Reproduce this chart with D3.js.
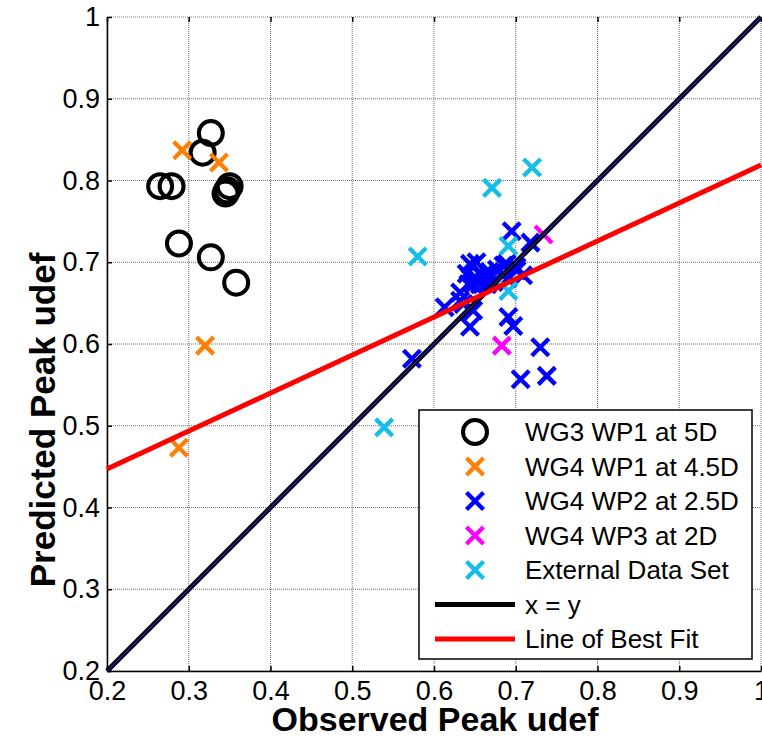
<!DOCTYPE html>
<html>
<head>
<meta charset="utf-8">
<script src="https://cdn.jsdelivr.net/npm/d3@7"></script>
<style>
  html, body { margin: 0; padding: 0; background: #fff; }
  svg { display: block; font-family: "Liberation Sans", Arial, Helvetica, sans-serif; }
</style>
</head>
<body>
<svg id="chart" width="762" height="744"></svg>
<script>
// Tick values for both axes
const xTicks = [0.2, 0.3, 0.4, 0.5, 0.6, 0.7, 0.8, 0.9, 1];
const yTicks = [0.2, 0.3, 0.4, 0.5, 0.6, 0.7, 0.8, 0.9, 1];
const tickLabels = ["0.2", "0.3", "0.4", "0.5", "0.6", "0.7", "0.8", "0.9", "1"];

// WG3 WP1 at 5D
const wg3wp1X = [0.327, 0.317, 0.265, 0.279, 0.350, 0.347, 0.345, 0.288, 0.327, 0.358];
const wg3wp1Y = [0.858, 0.834, 0.793, 0.793, 0.793, 0.788, 0.784, 0.723, 0.706, 0.675];

// WG4 WP1 at 4.5D
const wg4wp1X = [0.292, 0.337, 0.320, 0.288];
const wg4wp1Y = [0.837, 0.822, 0.598, 0.473];

// WG4 WP2 at 2.5D
const wg4wp2X = [0.573, 0.613, 0.632, 0.636, 0.648, 0.644, 0.644, 0.652, 0.640, 0.650, 0.660,
                 0.642, 0.648, 0.656, 0.665, 0.673, 0.677, 0.685, 0.689, 0.701, 0.709, 0.701,
                 0.695, 0.718, 0.691, 0.697, 0.730, 0.706, 0.738, 0.632, 0.690, 0.668];
const wg4wp2Y = [0.582, 0.645, 0.653, 0.649, 0.641, 0.621, 0.698, 0.700, 0.686, 0.682, 0.684,
                 0.673, 0.673, 0.673, 0.673, 0.676, 0.691, 0.696, 0.698, 0.694, 0.684, 0.690,
                 0.738, 0.724, 0.633, 0.622, 0.596, 0.557, 0.561, 0.663, 0.680, 0.688];

// WG4 WP3 at 2D
const wg4wp3X = [0.734, 0.683];
const wg4wp3Y = [0.734, 0.598];

// External data set
const externalX = [0.720, 0.671, 0.580, 0.539, 0.691, 0.691];
const externalY = [0.816, 0.791, 0.707, 0.498, 0.720, 0.665];

// Reference lines
const identityX = [0.2, 1];
const identityY = [0.2, 1];
const fitX = [0.2, 1];
const fitY = [0.447, 0.819];

const legendLabels = ["WG3 WP1 at 5D", "WG4 WP1 at 4.5D", "WG4 WP2 at 2.5D",
                      "WG4 WP3 at 2D", "External Data Set", "x = y", "Line of Best Fit"];

const zip = (xs, ys) => xs.map((v, i) => [v, ys[i]]);

const svg = d3.select("#chart");
const plot = { left: 107, right: 761, top: 17, bottom: 671 };

const x = d3.scaleLinear().domain([0.2, 1]).range([plot.left, plot.right]);
const y = d3.scaleLinear().domain([0.2, 1]).range([plot.bottom, plot.top]);
const fmt = d => tickLabels[xTicks.indexOf(d)];

// Dotted grid
const grid = svg.append("g").attr("class", "grid");
grid.selectAll("line.gx").data(xTicks).join("line")
  .attr("x1", d => x(d)).attr("x2", d => x(d))
  .attr("y1", plot.top).attr("y2", plot.bottom)
  .attr("stroke", "#6e6e6e").attr("stroke-width", 1).attr("stroke-dasharray", "1,1");
grid.selectAll("line.gy").data(yTicks).join("line")
  .attr("x1", plot.left).attr("x2", plot.right)
  .attr("y1", d => y(d)).attr("y2", d => y(d))
  .attr("stroke", "#6e6e6e").attr("stroke-width", 1).attr("stroke-dasharray", "1,1");

// Axes with inward ticks
const xAxis = svg.append("g")
  .attr("transform", `translate(0,${plot.bottom})`)
  .call(d3.axisBottom(x).tickValues(xTicks).tickFormat(fmt).tickSize(-5).tickPadding(10).tickSizeOuter(0));
const yAxis = svg.append("g")
  .attr("transform", `translate(${plot.left},0)`)
  .call(d3.axisLeft(y).tickValues(yTicks).tickFormat(fmt).tickSize(-5).tickPadding(7).tickSizeOuter(0));
const xTop = svg.append("g")
  .attr("transform", `translate(0,${plot.top})`)
  .call(d3.axisTop(x).tickValues(xTicks).tickFormat("").tickSize(-5).tickSizeOuter(0));
xTop.select(".domain").remove();

[xAxis, yAxis, xTop].forEach(g => {
  g.selectAll(".domain").attr("stroke", "#000").attr("stroke-width", 1.5);
  g.selectAll(".tick line").attr("stroke", "#000").attr("stroke-width", 1.5);
  g.selectAll(".tick text").attr("fill", "#000").attr("font-size", 27)
    .attr("font-family", "'Liberation Sans', Arial, sans-serif");
});

// Axis titles
svg.append("text")
  .attr("x", (plot.left + plot.right) / 2 + 1).attr("y", 731)
  .attr("text-anchor", "middle").attr("font-size", 34).attr("font-weight", "bold")
  .text("Observed Peak udef");
svg.append("text")
  .attr("transform", `translate(55,${(plot.top + plot.bottom) / 2 + 76}) rotate(-90)`)
  .attr("text-anchor", "middle").attr("font-size", 35).attr("font-weight", "bold")
  .text("Predicted Peak udef");

// Marker helpers
const crossPath = (s) => `M${-s},${-s}L${s},${s}M${-s},${s}L${s},${-s}`;
function drawCrosses(data, color) {
  svg.append("g").selectAll("path").data(data).join("path")
    .attr("transform", d => `translate(${x(d[0])},${y(d[1])})`)
    .attr("d", crossPath(8.5))
    .attr("fill", "none").attr("stroke", color).attr("stroke-width", 4.3);
}

// Scatter series
svg.append("g").selectAll("circle").data(zip(wg3wp1X, wg3wp1Y)).join("circle")
  .attr("cx", d => x(d[0])).attr("cy", d => y(d[1])).attr("r", 12)
  .attr("fill", "none").attr("stroke", "#000").attr("stroke-width", 4);
drawCrosses(zip(wg4wp1X, wg4wp1Y), "#ff8000");
drawCrosses(zip(wg4wp2X, wg4wp2Y), "#0000ff");
drawCrosses(zip(wg4wp3X, wg4wp3Y), "#ff00ff");
drawCrosses(zip(externalX, externalY), "#14bee8");

// Reference lines
const line = d3.line().x(d => x(d[0])).y(d => y(d[1]));
svg.append("path").datum(zip(identityX, identityY)).attr("d", line)
  .attr("fill", "none").attr("stroke", "#000").attr("stroke-width", 5);
svg.append("path").datum(zip(identityX, identityY)).attr("d", line)
  .attr("fill", "none").attr("stroke", "#1a1aa0").attr("stroke-width", 1.5);
svg.append("path").datum(zip(fitX, fitY)).attr("d", line)
  .attr("fill", "none").attr("stroke", "#ff0000").attr("stroke-width", 5);

// Legend
const lg = svg.append("g");
lg.append("rect").attr("x", 419).attr("y", 410).attr("width", 333).attr("height", 249)
  .attr("fill", "#fff").attr("stroke", "#000").attr("stroke-width", 1.5);
const rowY = i => 432 + i * 34.5;
const markerX = 475;
lg.append("circle").attr("cx", markerX).attr("cy", rowY(0)).attr("r", 12)
  .attr("fill", "none").attr("stroke", "#000").attr("stroke-width", 4);
["#ff8000", "#0000ff", "#ff00ff", "#14bee8"].forEach((c, i) => {
  lg.append("path").attr("transform", `translate(${markerX},${rowY(i + 1)})`)
    .attr("d", crossPath(8.5)).attr("fill", "none").attr("stroke", c).attr("stroke-width", 4.3);
});
[["#000", 5], ["#ff0000", 5]].forEach(([c, w], i) => {
  lg.append("line").attr("x1", 435).attr("x2", 515)
    .attr("y1", rowY(i + 5)).attr("y2", rowY(i + 5))
    .attr("stroke", c).attr("stroke-width", w);
});
lg.selectAll("text").data(legendLabels).join("text")
  .attr("x", 525).attr("y", (d, i) => rowY(i))
  .attr("dy", "0.36em").attr("font-size", 26).attr("fill", "#000")
  .text(d => d);
</script>
</body>
</html>
